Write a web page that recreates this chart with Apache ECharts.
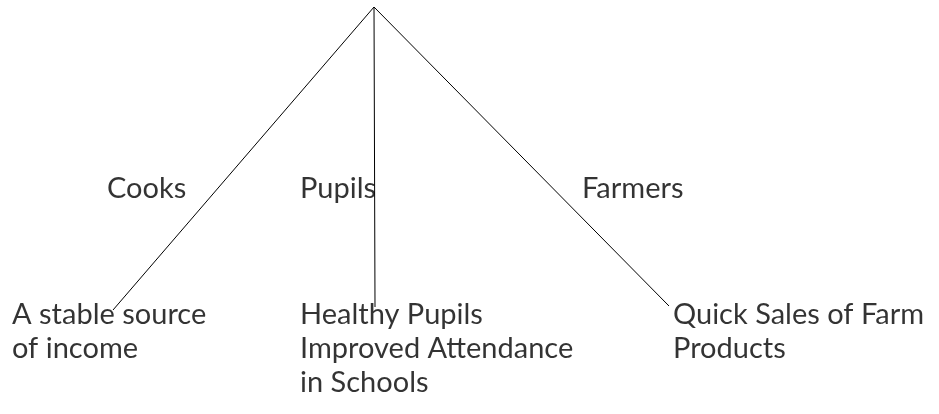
<!DOCTYPE html>
<html>
<head>
<meta charset="utf-8">
<script src="https://cdn.jsdelivr.net/npm/echarts@6/dist/echarts.min.js"></script>
<style>html,body{margin:0;padding:0;background:#fff}#c{width:939px;height:414px}</style>
</head>
<body>
<div id="c"></div>
<script>
// Diagram data (positions in a 939 x 414 data space)
var apex = [374, 7];
var branchEnds = [[113, 310], [375, 307], [669, 306]];
var groupLabels = ['Cooks', 'Pupils', 'Farmers'];
var groupLabelPos = [[107, 172], [300, 172], [582, 172]];
var outcomeLabels = ['A stable source\nof income', 'Healthy Pupils\nImproved Attendance\nin Schools', 'Quick Sales of Farm\nProducts'];
var outcomeLabelPos = [[12, 298], [300, 298], [673, 298]];

var series = [];
branchEnds.forEach(function (e) {
  series.push({
    type: 'line', data: [apex, e], symbol: 'none', silent: true,
    lineStyle: { color: '#000', width: 1 }, animation: false
  });
});
function textSeries(labels, pos) {
  return {
    type: 'scatter', symbolSize: 0, silent: true, animation: false,
    data: pos.map(function (p, i) { return { value: p, name: labels[i] }; }),
    label: {
      show: true, position: [0, 0], align: 'left', verticalAlign: 'top',
      formatter: function (p) { return p.name; },
      fontFamily: 'Lato', fontSize: 29, lineHeight: 34, color: '#000'
    }
  };
}
series.push(textSeries(groupLabels, groupLabelPos));
series.push(textSeries(outcomeLabels, outcomeLabelPos));

var chart = echarts.init(document.getElementById('c'));
chart.setOption({
  animation: false,
  grid: { left: 0, right: 0, top: 0, bottom: 0 },
  xAxis: { type: 'value', min: 0, max: 939, show: false },
  yAxis: { type: 'value', min: 0, max: 414, inverse: true, show: false },
  series: series
});
</script>
</body>
</html>
